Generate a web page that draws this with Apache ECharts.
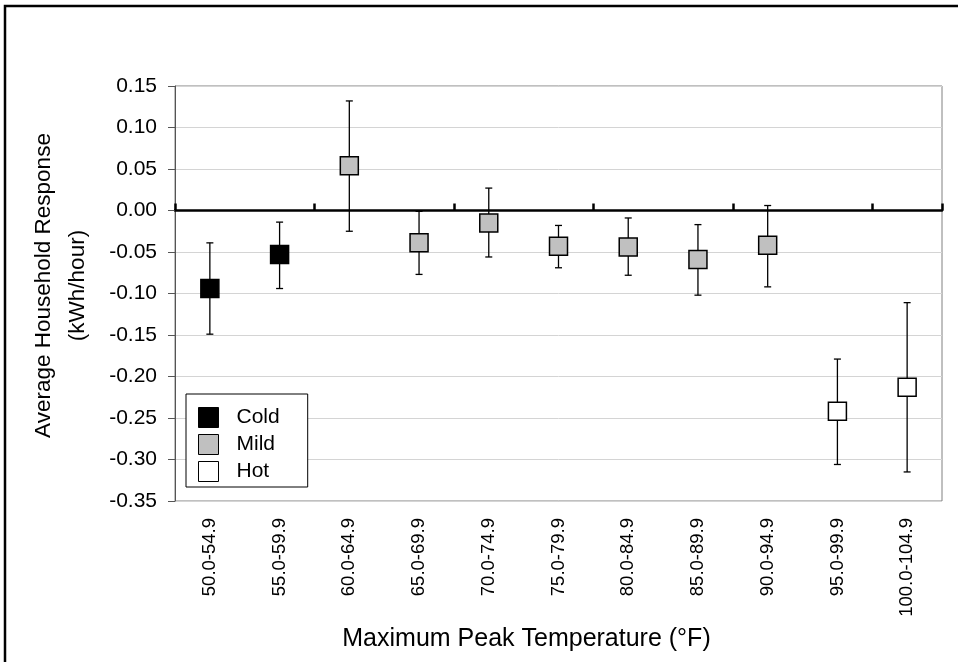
<!DOCTYPE html>
<html>
<head>
<meta charset="utf-8">
<script src="https://cdn.jsdelivr.net/npm/echarts@6/dist/echarts.min.js"></script>
<style>
html,body{margin:0;padding:0;background:#fff;}
#chart{width:958px;height:662px;}
</style>
</head>
<body>
<div id="chart"></div>
<script>
const categories = ['50.0-54.9','55.0-59.9','60.0-64.9','65.0-69.9','70.0-74.9','75.0-79.9','80.0-84.9','85.0-89.9','90.0-94.9','95.0-99.9','100.0-104.9'];
const means = [-0.094, -0.053, 0.054, -0.039, -0.015, -0.043, -0.044, -0.059, -0.042, -0.242, -0.213];
const upper = [-0.039, -0.014, 0.132, -0.001, 0.027, -0.018, -0.009, -0.017, 0.006, -0.179, -0.111];
const lower = [-0.149, -0.094, -0.025, -0.077, -0.056, -0.069, -0.078, -0.102, -0.092, -0.306, -0.315];
const groups = ['Cold','Cold','Mild','Mild','Mild','Mild','Mild','Mild','Mild','Hot','Hot'];
const groupNames = ['Cold','Mild','Hot'];
const groupColors = {Cold:'#000000', Mild:'#c0c0c0', Hot:'#ffffff'};
const yTicks = [0.15,0.10,0.05,0.00,-0.05,-0.10,-0.15,-0.20,-0.25,-0.30,-0.35];

const FONT = '"Liberation Sans", Arial, sans-serif';
const chart = echarts.init(document.getElementById('chart'));

const errData = categories.map((c,i)=>[i, lower[i], upper[i]]);

const scatterSeries = groupNames.map(g => ({
  name: g,
  type: 'scatter',
  xAxisIndex: 0,
  symbol: 'rect',
  symbolSize: 18,
  z: 5,
  itemStyle: {color: groupColors[g], borderColor: '#000', borderWidth: 1.5, opacity: 1},
  emphasis: {disabled: true},
  data: categories.map((c,i)=> groups[i]===g ? [i, means[i]] : [i, null]).filter(d=>d[1]!==null)
}));

chart.setOption({
  animation: false,
  backgroundColor: '#fff',
  textStyle: {fontFamily: FONT, color: '#000'},
  graphic: [{
    type: 'rect', silent: true, z: 100,
    shape: {x: 5, y: 6, width: 1000, height: 700},
    style: {fill: 'none', stroke: '#000', lineWidth: 2.5}
  }],
  grid: {left: 175, top: 86, right: 16, bottom: 161, show: true, borderColor: '#808080', borderWidth: 1, containLabel: false},
  legend: {
    orient: 'vertical', left: 186, top: 394,
    data: groupNames,
    icon: 'rect', itemWidth: 20, itemHeight: 20, itemGap: 6,
    backgroundColor: '#fff', borderColor: '#000', borderWidth: 1, borderRadius: 0,
    padding: [13, 28, 5, 12],
    textStyle: {fontFamily: FONT, fontSize: 21, color: '#000', padding: [0,0,0,13]},
    selectedMode: false,
    itemStyle: {borderColor: '#000', borderWidth: 1}
  },
  xAxis: [{
    type: 'category', data: categories, position: 'bottom',
    axisLine: {onZero: true, lineStyle: {color: '#000', width: 2.5}},
    axisTick: {show: true, inside: true, length: 7, alignWithLabel: false, lineStyle: {color: '#000', width: 2.5}},
    axisLabel: {show: false},
    splitLine: {show: false}
  }, {
    type: 'category', data: categories, position: 'bottom',
    axisLine: {show: false, onZero: false},
    axisTick: {show: false},
    axisLabel: {rotate: 90, margin: 17, fontSize: 18.5, color: '#000', fontFamily: FONT, interval: 0},
    name: 'Maximum Peak Temperature (°F)', nameLocation: 'middle', nameGap: 126,
    nameTextStyle: {fontSize: 25, color: '#000', fontFamily: FONT, padding: [0, 64, 0, 0]}
  }],
  yAxis: {
    type: 'value', min: -0.35, max: 0.15, interval: 0.05,
    axisLine: {show: true, lineStyle: {color: '#555', width: 1}},
    axisTick: {show: true, length: 7, lineStyle: {color: '#555'}},
    axisLabel: {fontSize: 21, color: '#000', margin: 18, fontFamily: FONT,
      formatter: v => v.toFixed(2)},
    splitLine: {show: true, lineStyle: {color: '#d4d4d4', width: 1}},
    name: 'Average Household Response\n(kWh/hour)', nameLocation: 'middle', nameGap: 80,
    nameTextStyle: {fontSize: 22.5, color: '#000', fontFamily: FONT, lineHeight: 34, padding: [0,0,0,16]}
  },
  series: [{
    type: 'custom', name: 'err', xAxisIndex: 0, z: 3, silent: true,
    data: errData,
    renderItem: (params, api) => {
      const x = api.value(0);
      const lo = api.coord([x, api.value(1)]);
      const hi = api.coord([x, api.value(2)]);
      const hw = 3.5;
      const st = {stroke: '#000', lineWidth: 1.3};
      return {type: 'group', children: [
        {type: 'line', shape: {x1: lo[0], y1: lo[1], x2: hi[0], y2: hi[1]}, style: st},
        {type: 'line', shape: {x1: lo[0]-hw, y1: lo[1], x2: lo[0]+hw, y2: lo[1]}, style: st},
        {type: 'line', shape: {x1: hi[0]-hw, y1: hi[1], x2: hi[0]+hw, y2: hi[1]}, style: st}
      ]};
    }
  }].concat(scatterSeries)
});
</script>
</body>
</html>
